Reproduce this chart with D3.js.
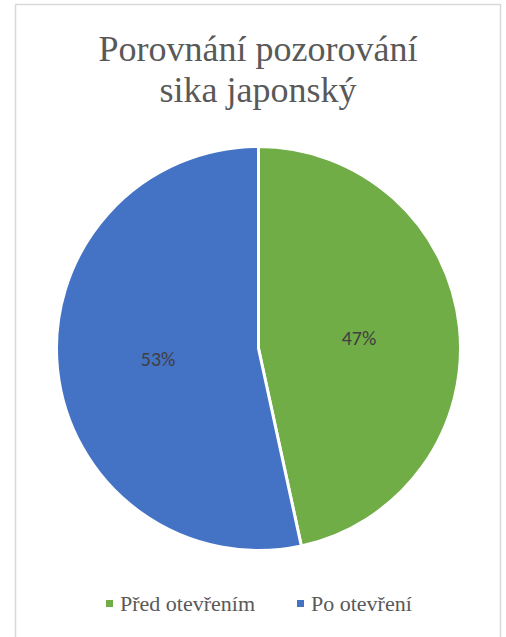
<!DOCTYPE html>
<html>
<head>
<meta charset="utf-8">
<script src="https://cdn.jsdelivr.net/npm/d3@7"></script>
</head>
<body style="margin:0">
<svg id="chart" width="506" height="637"></svg>
<script>
const titleLines = ["Porovnání pozorování", "sika japonský"];
const categories = ["Před otevřením", "Po otevření"];
const values = [46.6, 53.4];
const colors = ["#70AD47", "#4472C4"];

const SERIF = '"Liberation Serif", serif';
const SANS = '"Carlito", "Liberation Sans", sans-serif';

const svg = d3.select("#chart");

svg.append("rect").attr("x", 15.5).attr("y", 4.5).attr("width", 485).attr("height", 660)
  .attr("fill", "#fff").attr("stroke", "#d9d9d9").attr("stroke-width", 1.5);

svg.selectAll("text.title").data(titleLines).join("text").attr("class", "title")
  .attr("text-anchor", "middle")
  .attr("x", 258).attr("y", (d, i) => 61 + i * 41)
  .attr("font-family", SERIF)
  .style("font-family", SERIF, "important").style("font-size", "36px")
  .attr("fill", "#595959").text(d => d);

const cx = 258.5, cy = 348.5, R = 202;
const pie = d3.pie().sort(null).value(d => d.v);
const arcs = pie(values.map((v, i) => ({v, c: categories[i], col: colors[i]})));
const arc = d3.arc().innerRadius(0).outerRadius(R);
const labelArc = d3.arc().innerRadius(R * 0.5).outerRadius(R * 0.5);
const total = d3.sum(values);

const g = svg.append("g").attr("transform", `translate(${cx},${cy})`);
g.selectAll("path").data(arcs).join("path")
  .attr("d", arc).attr("fill", d => d.data.col)
  .attr("stroke", "#fff").attr("stroke-width", 3).attr("stroke-linejoin", "round");

g.selectAll("text.lbl").data(arcs).join("text").attr("class", "lbl")
  .attr("transform", d => `translate(${labelArc.centroid(d)})`)
  .attr("text-anchor", "middle").attr("dy", "0.35em")
  .attr("font-family", SANS)
  .style("font-family", SANS, "important").style("font-size", "20px").attr("fill", "#404040")
  .text(d => Math.round(d.data.v / total * 100) + "%");

const legendX = [106, 297];
const items = svg.append("g").selectAll("g").data(categories).join("g")
  .attr("transform", (d, i) => `translate(${legendX[i]},611)`);
items.append("rect").attr("x", 0).attr("y", -11).attr("width", 7).attr("height", 7)
  .attr("fill", (d, i) => colors[i]);
items.append("text").attr("x", 14).attr("y", 0)
  .attr("font-family", SERIF)
  .style("font-family", SERIF, "important").style("font-size", "22px")
  .attr("fill", "#595959").text(d => d);
</script>
</body>
</html>
